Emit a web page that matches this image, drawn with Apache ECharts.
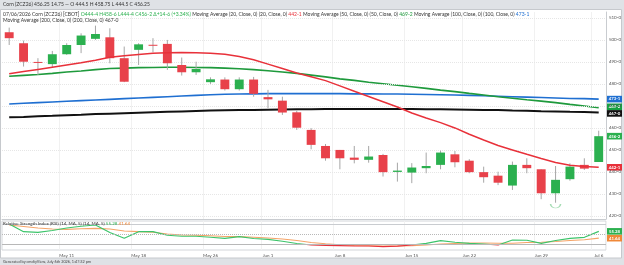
<!DOCTYPE html>
<html>
<head>
<meta charset="utf-8">
<script src="https://cdn.jsdelivr.net/npm/echarts@6/dist/echarts.min.js"></script>
<style>
  html, body { margin: 0; padding: 0; background: #dfe2e6; }
  #main { width: 624px; height: 265px; }
</style>
</head>
<body>
<div id="main"></div>
<script>
// trading days shown on the chart
let dates = ['May 5', 'May 6', 'May 7', 'May 8', 'May 11', 'May 12', 'May 13', 'May 14', 'May 15',
  'May 18', 'May 19', 'May 20', 'May 21', 'May 22', 'May 26', 'May 27', 'May 28', 'May 29',
  'Jun 1', 'Jun 2', 'Jun 3', 'Jun 4', 'Jun 5', 'Jun 8', 'Jun 9', 'Jun 10', 'Jun 11', 'Jun 12',
  'Jun 15', 'Jun 16', 'Jun 17', 'Jun 18', 'Jun 22', 'Jun 23', 'Jun 24', 'Jun 25', 'Jun 26',
  'Jun 29', 'Jun 30', 'Jul 1', 'Jul 2', 'Jul 6'];
let dateTicks = ['May 11', 'May 18', 'May 26', 'Jun 1', 'Jun 8', 'Jun 15', 'Jun 22', 'Jun 29', 'Jul 6'];
let priceTicks = [420, 430, 440, 450, 460, 470, 480, 490, 500, 510];

// OHLC
let opens = [503.5, 498.5, 490.0, 489.0, 493.5, 497.7, 500.5, 501.2, 491.7, 495.5, 497.8, 498.2, 488.6, 485.3,
  480.8, 482.0, 477.6, 482.0, 474.0, 472.4, 467.1, 459.1, 451.8, 450.0, 446.5, 445.5, 447.7, 440.0,
  439.7, 441.7, 443.2, 448.0, 445.1, 439.9, 438.3, 433.8, 443.2, 441.2, 430.3, 436.7, 443.2, 444.5];
let highs = [505.6, 499.7, 491.7, 495.0, 498.5, 503.0, 506.5, 505.3, 497.0, 498.5, 500.8, 500.0, 492.0, 490.1,
  483.0, 483.0, 483.0, 483.2, 477.3, 474.2, 467.9, 459.9, 452.7, 450.0, 451.8, 451.8, 448.2, 444.2,
  444.0, 448.8, 449.7, 449.5, 445.8, 442.4, 440.1, 444.7, 446.2, 441.2, 442.7, 443.9, 446.2, 458.75];
let lows = [497.7, 487.9, 484.1, 487.4, 493.2, 494.0, 500.0, 489.4, 480.8, 488.6, 494.4, 486.4, 483.8, 484.1,
  480.0, 477.0, 477.0, 474.2, 469.0, 465.9, 459.1, 450.3, 445.1, 441.2, 443.9, 444.2, 437.9, 435.6,
  434.9, 439.4, 441.2, 442.1, 439.4, 435.1, 434.0, 431.8, 439.4, 427.6, 426.0, 436.0, 440.9, 444.5];
let closes = [500.8, 490.1, 489.8, 493.5, 497.7, 502.0, 502.7, 491.7, 481.0, 498.0, 497.6, 489.4, 485.3, 486.8,
  482.1, 477.6, 482.0, 475.5, 473.0, 467.0, 460.1, 452.3, 446.2, 446.2, 445.5, 447.0, 439.9, 440.6,
  442.0, 442.7, 448.8, 444.4, 439.9, 437.6, 435.1, 443.2, 441.7, 430.3, 436.4, 442.4, 441.5, 456.25];

// moving averages
let ma20 = [484.6, 485.6, 486.6, 487.6, 488.6, 489.6, 490.8, 492.1, 492.8, 493.4, 493.9, 494.2, 494.3, 494.2,
  494.0, 493.5, 492.5, 491.0, 489.0, 487.0, 485.0, 483.3, 481.5, 479.1, 476.7, 474.3, 471.9, 469.5,
  466.8, 464.5, 462.4, 460.0, 457.1, 454.5, 452.0, 450.0, 448.0, 446.1, 444.3, 443.0, 442.5, 442.1];
let ma50 = [483.5, 483.9, 484.3, 484.8, 485.4, 485.9, 486.5, 487.0, 487.2, 487.4, 487.5, 487.6, 487.6, 487.5,
  487.4, 487.2, 486.9, 486.5, 486.0, 485.4, 484.8, 484.0, 483.2, 482.3, 481.6, 480.8, 480.1, 479.4,
  478.7, 478.0, 477.2, 476.5, 475.7, 475.0, 474.2, 473.5, 472.8, 472.2, 471.5, 470.7, 470.0, 469.2];
let ma100 = [470.9, 471.2, 471.5, 471.8, 472.1, 472.4, 472.7, 473.0, 473.3, 473.6, 473.9, 474.2, 474.5, 474.8,
  475.1, 475.3, 475.4, 475.5, 475.6, 475.6, 475.6, 475.6, 475.6, 475.6, 475.5, 475.5, 475.4, 475.4,
  475.3, 475.2, 475.1, 475.0, 474.8, 474.6, 474.4, 474.2, 474.0, 473.8, 473.6, 473.4, 473.3, 473.1];
let ma200 = [464.8, 465.0, 465.3, 465.5, 465.8, 466.0, 466.3, 466.5, 466.7, 466.9, 467.1, 467.3, 467.5, 467.7,
  467.9, 468.0, 468.1, 468.2, 468.3, 468.4, 468.5, 468.5, 468.6, 468.6, 468.6, 468.6, 468.6, 468.6,
  468.6, 468.5, 468.5, 468.4, 468.3, 468.2, 468.1, 467.9, 467.8, 467.6, 467.5, 467.3, 467.2, 467.0];

// RSI (14) and its 5 period average
let rsi = [70, 54.6, 53.4, 57, 62, 65.5, 68, 53, 41.4, 54.6, 54.6, 47.5, 45.5, 45.5,
  43.5, 41.4, 44.6, 41, 39.4, 35.5, 31, 28, 27, 26.6, 26, 26, 24.6, 25.6,
  28, 31.4, 36.6, 33.5, 31.4, 30, 28, 38, 37.5, 31.4, 37, 41.4, 43.4, 55.28];
let rsiMa = [68, 65, 62, 60, 59.4, 60.5, 61.4, 60, 56, 54.6, 53.5, 50, 48, 47.5,
  46.5, 45, 44.6, 43.5, 42, 40, 37, 33, 30.5, 28.5, 27, 26.5, 26, 26,
  26.5, 28, 30, 31, 32, 32, 31.5, 31.5, 33, 33.5, 35, 37, 38.5, 41.64];
let rsiLevels = [70, 50, 30];

let upColor = '#2bb04f';
let downColor = '#e8414a';
let rsiUp = '#3cc46a';
let rsiDown = '#e8313a';
let font = 'Lato';

let chart = echarts.init(document.getElementById('main'));

let candleData = dates.map((d, i) => [i, opens[i], closes[i], lows[i], highs[i]]);
let showTick = (index, value) => dateTicks.indexOf(value) >= 0;
let eighths = v => {
  let w = Math.floor(v);
  let f = Math.round((v - w) * 8);
  if (f === 8) { w += 1; f = 0; }
  return w + '-' + f;
};

let option = {
  backgroundColor: '#dfe2e6',
  animation: false,
  textStyle: { fontFamily: font },
  grid: [
    { left: 2, right: 18, top: 12, height: 207 },
    { left: 2, right: 18, top: 221, height: 29, show: true, borderColor: '#d3d6da', borderWidth: 1 }
  ],
  xAxis: [
    {
      type: 'category', data: dates, gridIndex: 0,
      axisLine: { lineStyle: { color: '#c9ccd0' } },
      axisTick: { show: false }, axisLabel: { show: false },
      splitLine: { show: true, interval: showTick, lineStyle: { color: '#f1f1f1' } }
    },
    {
      type: 'category', data: dates, gridIndex: 1,
      axisLine: { show: false }, axisTick: { show: false },
      axisLabel: { interval: showTick, fontSize: 4.5, color: '#555', margin: 3 },
      splitLine: { show: true, interval: showTick, lineStyle: { color: '#f1f1f1' } }
    }
  ],
  yAxis: [
    {
      type: 'value', gridIndex: 0, position: 'right', min: 418.6, max: 512.7, scale: true,
      axisLine: { show: true, lineStyle: { color: '#c9ccd0' } },
      axisTick: { show: false },
      axisLabel: { customValues: priceTicks, formatter: v => v + '-0', fontSize: 4.5, color: '#555', margin: 3 },
      splitLine: { show: false }
    },
    {
      type: 'value', gridIndex: 1, position: 'right', min: 18, max: 76,
      axisLine: { show: false }, axisTick: { show: false }, axisLabel: { show: false }, splitLine: { show: false }
    }
  ],
  series: [
    {
      // candles: gray wick, coloured body
      type: 'custom', xAxisIndex: 0, yAxisIndex: 0, z: 5,
      data: candleData,
      encode: { x: 0, y: [1, 2, 3, 4] },
      renderItem: (params, api) => {
        let i = api.value(0);
        let o = api.coord([i, api.value(1)]);
        let c = api.coord([i, api.value(2)]);
        let l = api.coord([i, api.value(3)]);
        let h = api.coord([i, api.value(4)]);
        let w = api.size([1, 0])[0] * 0.62;
        let x = o[0];
        let top = Math.min(o[1], c[1]);
        let hh = Math.max(1, Math.abs(o[1] - c[1]));
        return {
          type: 'group',
          children: [
            { type: 'line', shape: { x1: x, y1: h[1], x2: x, y2: l[1] }, style: { stroke: '#a6a6a6', lineWidth: 1 } },
            { type: 'rect', shape: { x: x - w / 2, y: top, width: w, height: hh },
              style: { fill: api.value(2) >= api.value(1) ? upColor : downColor } }
          ]
        };
      }
    },
    {
      type: 'line', data: ma200, showSymbol: false, z: 3,
      lineStyle: { color: '#111', width: 2 },
      markLine: {
        silent: true, symbol: 'none', label: { show: false },
        lineStyle: { color: '#e6e6e6', type: 'dotted', width: 1 },
        data: priceTicks.map(v => ({ yAxis: v }))
      }
    },
    { type: 'line', data: ma100, showSymbol: false, z: 3, lineStyle: { color: '#1f6fd1', width: 1.6 } },
    { type: 'line', data: ma50, showSymbol: false, z: 3, lineStyle: { color: '#1e9a3c', width: 1.6 } },
    { type: 'line', data: ma20, showSymbol: false, z: 6, lineStyle: { color: '#e8313a', width: 1.5 } },
    {
      // pattern marker under the Jun 30 low
      type: 'scatter', data: [[38, 424.5]], z: 6,
      symbol: 'path://M0,0 A8,8 0 0 0 16,0', symbolSize: [10, 4],
      itemStyle: { color: 'none', borderColor: '#8fd3a0', borderWidth: 1 }
    },
    {
      id: 'rsi', type: 'line', xAxisIndex: 1, yAxisIndex: 1, data: rsi, showSymbol: false, z: 4,
      lineStyle: { width: 1.2, color: rsiUp },
      markLine: {
        silent: true, symbol: 'none', label: { show: false },
        data: [
          { yAxis: rsiLevels[0], lineStyle: { color: '#c9ccd0', type: 'solid', width: 1 } },
          { yAxis: rsiLevels[1], lineStyle: { color: '#b8b8b8', type: 'dotted', width: 1 } },
          { yAxis: rsiLevels[2], lineStyle: { color: '#b8b8b8', type: 'solid', width: 1 } }
        ]
      }
    },
    { type: 'line', xAxisIndex: 1, yAxisIndex: 1, data: rsiMa, showSymbol: false, z: 3, lineStyle: { color: '#f5a468', width: 1.2 } }
  ],
  graphic: [
    { type: 'rect', z: -10, shape: { x: 0.5, y: 9.5, width: 621, height: 248.5 }, style: { fill: '#fff', stroke: '#c6c9cd' } },
    { type: 'text', z: 100, left: 3, top: 2, style: { text: 'Corn (ZCZ26) 456.25 14.75 — O 444.5 H 458.75 L 444.5 C 456.25', fontSize: 5, fill: '#333', fontFamily: font } },
    {
      type: 'text', z: 100, left: 3, top: 11.5,
      style: {
        text: '07/06/2026 Corn (ZCZ26) [CBOT] {g|O444-4 H458-6 L444-4 C456-2 Δ+14-6 (+3.34%)} Moving Average (20, Close, 0) (20, Close, 0) {r|442-1} Moving Average (50, Close, 0) (50, Close, 0) {g2|469-2} Moving Average (100, Close, 0) (100, Close, 0) {b|473-1}',
        fontSize: 5, fill: '#333', fontFamily: font,
        rich: {
          g: { fill: '#2bb04f', fontSize: 5, fontFamily: font },
          r: { fill: '#e8313a', fontSize: 5, fontFamily: font },
          g2: { fill: '#1e9a3c', fontSize: 5, fontFamily: font },
          b: { fill: '#1f6fd1', fontSize: 5, fontFamily: font }
        }
      }
    },
    { type: 'text', z: 100, left: 3, top: 18, style: { text: 'Moving Average (200, Close, 0) (200, Close, 0) 467-0', fontSize: 5, fill: '#333', fontFamily: font } },
    {
      type: 'text', z: 100, left: 3, top: 221.5,
      style: {
        text: 'Relative Strength Index (RSI) (14, MA, 5) (14, MA, 5) {g|55.28} {o|41.64}',
        fontSize: 4.5, fill: '#333', fontFamily: font,
        rich: {
          g: { fill: '#2bb04f', fontSize: 4.5, fontFamily: font },
          o: { fill: '#f08838', fontSize: 4.5, fontFamily: font }
        }
      }
    },
    { type: 'text', z: 100, left: 3, top: 259.6, style: { text: 'Generated by cmdtyView, July 6th 2026, 1:47:32 pm', fontSize: 3.8, fill: '#444', fontFamily: font } }
  ]
};

chart.setOption(option);

// RSI colour: red under the 30 level, green above (gradient in pixel space)
let rsiTop = chart.convertToPixel({ yAxisIndex: 1 }, 76);
let rsiBottom = chart.convertToPixel({ yAxisIndex: 1 }, 18);
let y30 = chart.convertToPixel({ yAxisIndex: 1 }, rsiLevels[2]);
let f30 = (y30 - rsiTop) / (rsiBottom - rsiTop);
let rsiColor = new echarts.graphic.LinearGradient(0, rsiTop, 0, rsiBottom, [
  { offset: 0, color: rsiUp }, { offset: f30, color: rsiUp },
  { offset: f30, color: rsiDown }, { offset: 1, color: rsiDown }
], true);

// value tags on the right axis, placed through the axis scales
let last = dates.length - 1;
let mainTags = [
  { v: ma100[last], c: '#1f6fd1' },
  { v: ma50[last], c: '#17a043' },
  { v: ma200[last], c: '#111' },
  { v: closes[last], c: '#2bb04f' },
  { v: ma20[last], c: '#e8313a' }
].map(t => ({ y: chart.convertToPixel({ yAxisIndex: 0 }, t.v), c: t.c, text: eighths(t.v) }));
let rsiTags = [
  { v: rsi[last], c: '#2bb04f' },
  { v: rsiMa[last], c: '#f08838' }
].map(t => ({ y: chart.convertToPixel({ yAxisIndex: 1 }, t.v), c: t.c, text: t.v.toFixed(2) }));

// spread overlapping tags apart
let tagH = 6.6;
mainTags.sort((a, b) => a.y - b.y);
for (let k = 0; k < 5; k++) {
  for (let i = 1; i < mainTags.length; i++) {
    let gap = mainTags[i].y - mainTags[i - 1].y;
    if (gap < tagH) {
      let d = (tagH - gap) / 2;
      mainTags[i - 1].y -= d;
      mainTags[i].y += d;
    }
  }
}

let tagGraphics = mainTags.concat(rsiTags).map(t => ({
  type: 'group', z: 110,
  children: [
    { type: 'rect', shape: { x: 607, y: t.y - tagH / 2, width: 15, height: tagH }, style: { fill: t.c } },
    { type: 'text', style: { x: 614.5, y: t.y, text: t.text, fill: '#fff', fontSize: 4.3, fontWeight: 'bold',
      fontFamily: font, align: 'center', verticalAlign: 'middle' } }
  ]
}));

chart.setOption({
  series: [{ id: 'rsi', lineStyle: { color: rsiColor } }],
  graphic: option.graphic.concat(tagGraphics)
});
</script>
